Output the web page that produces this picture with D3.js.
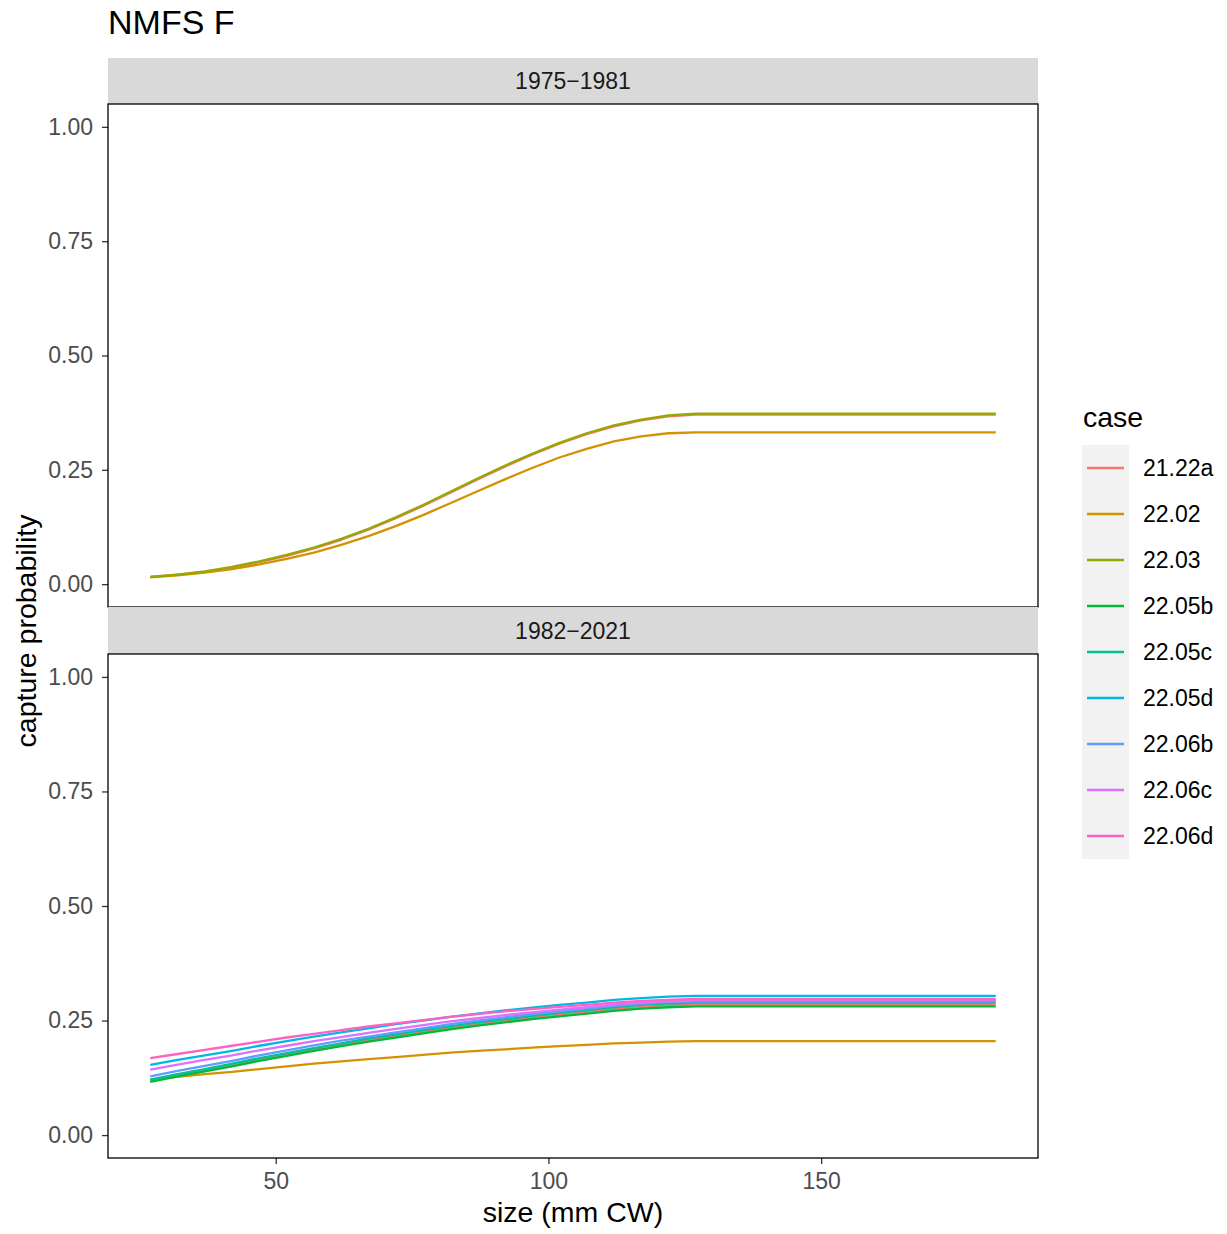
<!DOCTYPE html>
<html>
<head>
<meta charset="utf-8">
<script src="https://cdn.jsdelivr.net/npm/d3@7"></script>
<style>
  html, body { margin: 0; padding: 0; background: #fff; }
  svg { display: block; font-family: "Liberation Sans", Arial, Helvetica, sans-serif; }
</style>
</head>
<body>
<svg id="chart" width="1227" height="1234"></svg>
<script>
// Carapace width bins (mm CW)
const sizes = [27, 32, 37, 42, 47, 52, 57, 62, 67, 72, 77, 82, 87, 92, 97, 102,
               107, 112, 117, 122, 127, 132, 137, 142, 147, 152, 157, 162, 167, 172, 177, 182];

const cases = ["21.22a", "22.02", "22.03", "22.05b", "22.05c", "22.05d", "22.06b", "22.06c", "22.06d"];
const caseColors = ["#F8766D", "#D39200", "#93AA00", "#00BA38", "#00C19F", "#00B9E3", "#619CFF", "#DB72FB", "#FF61C3"];
const periods = ["1975\u22121981", "1982\u22122021"];
const yTicks = [0, 0.25, 0.5, 0.75, 1];
const xTicks = [50, 100, 150];

// 1975-1981 capture probability
const early_21_22a = [0.016, 0.021, 0.027, 0.036, 0.048, 0.062, 0.078, 0.097, 0.119, 0.144, 0.171, 0.200, 0.229, 0.257, 0.283, 0.307,
                      0.328, 0.345, 0.358, 0.367, 0.371, 0.371, 0.371, 0.371, 0.371, 0.371, 0.371, 0.371, 0.371, 0.371, 0.371, 0.371];
const early_22_02  = [0.015, 0.019, 0.025, 0.033, 0.043, 0.055, 0.069, 0.086, 0.105, 0.127, 0.151, 0.177, 0.203, 0.229, 0.254, 0.277,
                      0.296, 0.312, 0.323, 0.330, 0.332, 0.332, 0.332, 0.332, 0.332, 0.332, 0.332, 0.332, 0.332, 0.332, 0.332, 0.332];
const early_22_03  = [0.016, 0.021, 0.028, 0.038, 0.050, 0.064, 0.080, 0.099, 0.121, 0.146, 0.173, 0.202, 0.231, 0.259, 0.285, 0.309,
                      0.330, 0.347, 0.360, 0.369, 0.373, 0.373, 0.373, 0.373, 0.373, 0.373, 0.373, 0.373, 0.373, 0.373, 0.373, 0.373];

// 1982-2021 capture probability
const late_21_22a = [0.119, 0.131, 0.142, 0.153, 0.165, 0.176, 0.187, 0.198, 0.207, 0.217, 0.226, 0.235, 0.243, 0.250, 0.257, 0.263,
                     0.269, 0.275, 0.280, 0.283, 0.285, 0.285, 0.285, 0.285, 0.285, 0.285, 0.285, 0.285, 0.285, 0.285, 0.285, 0.285];
const late_22_02  = [0.121, 0.127, 0.133, 0.138, 0.144, 0.150, 0.156, 0.161, 0.166, 0.170, 0.175, 0.180, 0.184, 0.187, 0.191, 0.194,
                     0.197, 0.200, 0.202, 0.204, 0.205, 0.205, 0.205, 0.205, 0.205, 0.205, 0.205, 0.205, 0.205, 0.205, 0.205, 0.205];
const late_22_05b = [0.116, 0.128, 0.139, 0.150, 0.162, 0.173, 0.184, 0.194, 0.204, 0.213, 0.222, 0.231, 0.239, 0.246, 0.253, 0.259,
                     0.265, 0.271, 0.276, 0.279, 0.281, 0.281, 0.281, 0.281, 0.281, 0.281, 0.281, 0.281, 0.281, 0.281, 0.281, 0.281];
const late_22_05c = [0.121, 0.133, 0.144, 0.156, 0.168, 0.179, 0.190, 0.200, 0.211, 0.220, 0.229, 0.238, 0.246, 0.253, 0.260, 0.267,
                     0.273, 0.279, 0.284, 0.287, 0.289, 0.289, 0.289, 0.289, 0.289, 0.289, 0.289, 0.289, 0.289, 0.289, 0.289, 0.289];
const late_22_05d = [0.153, 0.164, 0.174, 0.184, 0.195, 0.205, 0.215, 0.224, 0.233, 0.242, 0.250, 0.258, 0.265, 0.272, 0.278, 0.284,
                     0.289, 0.295, 0.299, 0.302, 0.304, 0.304, 0.304, 0.304, 0.304, 0.304, 0.304, 0.304, 0.304, 0.304, 0.304, 0.304];
const late_22_06b = [0.128, 0.140, 0.151, 0.162, 0.174, 0.185, 0.196, 0.206, 0.215, 0.224, 0.233, 0.242, 0.250, 0.257, 0.264, 0.270,
                     0.276, 0.282, 0.287, 0.290, 0.292, 0.292, 0.292, 0.292, 0.292, 0.292, 0.292, 0.292, 0.292, 0.292, 0.292, 0.292];
const late_22_06c = [0.143, 0.154, 0.164, 0.174, 0.185, 0.195, 0.205, 0.214, 0.223, 0.232, 0.240, 0.248, 0.255, 0.262, 0.268, 0.274,
                     0.279, 0.285, 0.289, 0.292, 0.294, 0.294, 0.294, 0.294, 0.294, 0.294, 0.294, 0.294, 0.294, 0.294, 0.294, 0.294];
const late_22_06d = [0.168, 0.177, 0.186, 0.195, 0.204, 0.213, 0.221, 0.229, 0.237, 0.244, 0.251, 0.258, 0.264, 0.270, 0.275, 0.280,
                     0.284, 0.289, 0.293, 0.295, 0.297, 0.297, 0.297, 0.297, 0.297, 0.297, 0.297, 0.297, 0.297, 0.297, 0.297, 0.297];

// Series per facet, in legend (drawing) order
const facetSeries = [
  [["21.22a", early_21_22a], ["22.02", early_22_02], ["22.03", early_22_03]],
  [["21.22a", late_21_22a], ["22.02", late_22_02], ["22.05b", late_22_05b], ["22.05c", late_22_05c],
   ["22.05d", late_22_05d], ["22.06b", late_22_06b], ["22.06c", late_22_06c], ["22.06d", late_22_06d]]
];

const svg = d3.select("#chart");
const color = d3.scaleOrdinal().domain(cases).range(caseColors);

const panelLeft = 108, panelRight = 1038;
const panels = [
  { stripTop: 58, top: 104, bottom: 607 },
  { stripTop: 607, top: 654, bottom: 1158 }
];

// Continuous scales with 5% padding on each side
const xExt = d3.extent(sizes);
const xPad = (xExt[1] - xExt[0]) * 0.05;
const x = d3.scaleLinear().domain([xExt[0] - xPad, xExt[1] + xPad]).range([panelLeft, panelRight]);

// Title
svg.append("text")
  .attr("x", 108).attr("y", 34)
  .attr("font-size", 34).attr("fill", "#000")
  .text("NMFS F");

panels.forEach((p, i) => {
  const y = d3.scaleLinear().domain([-0.05, 1.05]).range([p.bottom, p.top]);

  // Facet strip
  svg.append("rect")
    .attr("x", panelLeft).attr("y", p.stripTop)
    .attr("width", panelRight - panelLeft).attr("height", p.top - p.stripTop)
    .attr("fill", "#D9D9D9");
  svg.append("text")
    .attr("x", (panelLeft + panelRight) / 2).attr("y", (p.stripTop + p.top) / 2)
    .attr("dy", "0.36em").attr("text-anchor", "middle")
    .attr("font-size", 23).attr("fill", "#1A1A1A")
    .text(periods[i]);

  // Panel background
  svg.append("rect")
    .attr("x", panelLeft).attr("y", p.top)
    .attr("width", panelRight - panelLeft).attr("height", p.bottom - p.top)
    .attr("fill", "#fff");

  // Lines
  const g = svg.append("g");
  const line = d3.line().x((d, k) => x(sizes[k])).y(d => y(d));
  facetSeries[i].forEach(([name, vals]) => {
    g.append("path")
      .datum(vals)
      .attr("d", line)
      .attr("fill", "none")
      .attr("stroke", color(name))
      .attr("stroke-width", 2.3)
      .attr("stroke-linejoin", "round");
  });

  // Y axis
  const yAxis = svg.append("g")
    .attr("transform", `translate(${panelLeft},0)`)
    .call(d3.axisLeft(y).tickValues(yTicks).tickFormat(d3.format(".2f")).tickSize(6).tickPadding(9));
  yAxis.select(".domain").remove();
  yAxis.selectAll(".tick line").attr("stroke", "#333333").attr("stroke-width", 1.3);
  yAxis.selectAll(".tick text").attr("font-size", 23).attr("fill", "#4D4D4D")
    .attr("font-family", "'Liberation Sans', Arial, Helvetica, sans-serif");

  // X axis on the bottom facet only
  if (i === panels.length - 1) {
    const xAxis = svg.append("g")
      .attr("transform", `translate(0,${p.bottom})`)
      .call(d3.axisBottom(x).tickValues(xTicks).tickFormat(d3.format("d")).tickSize(6).tickPadding(9));
    xAxis.select(".domain").remove();
    xAxis.selectAll(".tick line").attr("stroke", "#333333").attr("stroke-width", 1.3);
    xAxis.selectAll(".tick text").attr("font-size", 23).attr("fill", "#4D4D4D")
      .attr("font-family", "'Liberation Sans', Arial, Helvetica, sans-serif");
  }

  // Panel border
  svg.append("rect")
    .attr("x", panelLeft).attr("y", p.top)
    .attr("width", panelRight - panelLeft).attr("height", p.bottom - p.top)
    .attr("fill", "none").attr("stroke", "#000").attr("stroke-width", 1.3);
});

// Axis titles
svg.append("text")
  .attr("x", (panelLeft + panelRight) / 2).attr("y", 1222)
  .attr("text-anchor", "middle").attr("font-size", 28.5).attr("fill", "#000")
  .text("size (mm CW)");
svg.append("text")
  .attr("transform", `translate(36,${(panels[0].top + panels[1].bottom) / 2}) rotate(-90)`)
  .attr("text-anchor", "middle").attr("font-size", 28.5).attr("fill", "#000")
  .text("capture probability");

// Legend
const legend = svg.append("g").attr("transform", "translate(1082,0)");
legend.append("text")
  .attr("x", 1).attr("y", 427)
  .attr("font-size", 28.5).attr("fill", "#000")
  .text("case");
const keyTop = 445, keyH = 46;
legend.append("rect")
  .attr("x", 0).attr("y", keyTop)
  .attr("width", 47).attr("height", keyH * cases.length)
  .attr("fill", "#F2F2F2");
cases.forEach((c, k) => {
  const cy = keyTop + keyH * k + keyH / 2;
  legend.append("line")
    .attr("x1", 5).attr("x2", 42).attr("y1", cy).attr("y2", cy)
    .attr("stroke", color(c)).attr("stroke-width", 2.3);
  legend.append("text")
    .attr("x", 61).attr("y", cy).attr("dy", "0.36em")
    .attr("font-size", 23).attr("fill", "#000")
    .text(c);
});
</script>
</body>
</html>
